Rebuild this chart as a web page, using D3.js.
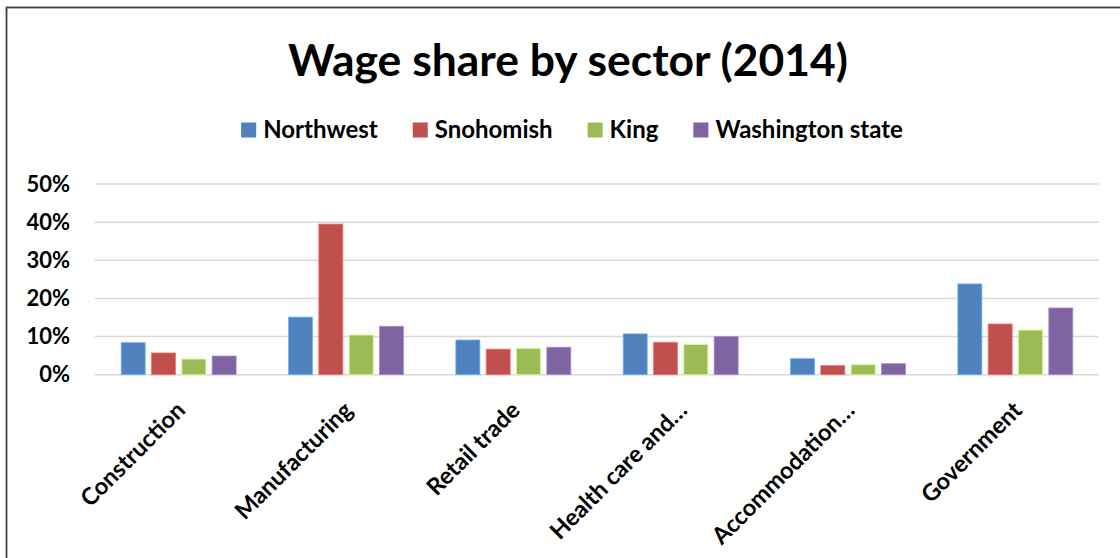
<!DOCTYPE html>
<html>
<head>
<meta charset="utf-8">
<script src="https://cdn.jsdelivr.net/npm/d3@7"></script>
<style>
  html, body { margin: 0; padding: 0; background: #fff; }
  svg { display: block; }
  text { font-family: "Lato", "Open Sans", sans-serif; font-weight: 700; fill: #000; }
</style>
</head>
<body>
<svg id="chart" width="1120" height="558"></svg>
<script>
// Wage share by sector, 2014
const categories = ["Construction", "Manufacturing", "Retail trade", "Health care and…", "Accommodation…", "Government"];
const seriesNames = ["Northwest", "Snohomish", "King", "Washington state"];
const northwest = [0.084, 0.151, 0.091, 0.107, 0.042, 0.238];
const snohomish = [0.057, 0.395, 0.067, 0.085, 0.024, 0.133];
const king      = [0.041, 0.104, 0.069, 0.079, 0.026, 0.117];
const washington = [0.049, 0.127, 0.072, 0.100, 0.029, 0.175];
const seriesColors = ["#4F81BD", "#C0504D", "#9BBB59", "#8064A2"];
const yTicks = [0, 0.1, 0.2, 0.3, 0.4, 0.5];
const chartTitle = "Wage share by sector (2014)";

const seriesValues = [northwest, snohomish, king, washington];

const svg = d3.select("#chart");
const W = 1120, H = 558;
const plot = { left: 95, right: 1099, top: 184, bottom: 374.7 };

// outer frame (open on the right and bottom edges)
svg.append("rect")
  .attr("x", 6.5).attr("y", 7.5)
  .attr("width", W + 20).attr("height", H + 20)
  .attr("fill", "none").attr("stroke", "#404040").attr("stroke-width", 1.8);

// title
svg.append("text")
  .attr("x", 568).attr("y", 76)
  .attr("text-anchor", "middle")
  .attr("font-size", 44)
  .attr("textLength", 560)
  .attr("lengthAdjust", "spacingAndGlyphs")
  .text(chartTitle);

// scales
const x = d3.scaleBand().domain(categories).range([plot.left, plot.right]).padding(0);
const groupW = x.bandwidth() * 0.687;
const xs = d3.scaleBand().domain(seriesNames).range([0, groupW]).paddingInner(0.208).paddingOuter(0);
const y = d3.scaleLinear().domain([0, 0.5]).range([plot.bottom, plot.top]);

// gridlines
svg.append("g")
  .selectAll("line")
  .data(yTicks)
  .join("line")
  .attr("x1", plot.left).attr("x2", plot.right)
  .attr("y1", d => y(d)).attr("y2", d => y(d))
  .attr("stroke", "#d9d9d9").attr("stroke-width", 1.5);

// y axis labels
const yAxis = d3.axisLeft(y).tickValues(yTicks).tickFormat(d3.format(".0%")).tickSize(0).tickPadding(0);
const gy = svg.append("g").attr("transform", "translate(70,0)").call(yAxis);
gy.select(".domain").remove();
gy.selectAll("text")
  .attr("font-size", 22)
  .attr("font-family", "Lato, 'Open Sans', sans-serif")
  .attr("font-weight", 700)
  .attr("fill", "#000");

// bars
const groups = svg.append("g")
  .selectAll("g")
  .data(categories.map((c, i) => ({ c, vals: seriesNames.map((s, j) => ({ s, j, v: seriesValues[j][i] })) })))
  .join("g")
  .attr("transform", d => `translate(${x(d.c) + (x.bandwidth() - groupW) / 2},0)`);

groups.selectAll("rect")
  .data(d => d.vals)
  .join("rect")
  .attr("x", d => xs(d.s))
  .attr("width", xs.bandwidth())
  .attr("y", d => y(d.v))
  .attr("height", d => y(0) - y(d.v))
  .attr("fill", d => seriesColors[d.j])
  .attr("stroke", d => d3.color(seriesColors[d.j]).brighter(0.9))
  .attr("stroke-width", 0.8);

// x axis labels, rotated
const xAxis = d3.axisBottom(x).tickSize(0).tickPadding(0);
const gx = svg.append("g").attr("transform", `translate(0,${plot.bottom})`).call(xAxis);
gx.select(".domain").remove();
gx.selectAll(".tick text")
  .attr("font-size", 23.5)
  .attr("font-family", "Lato, 'Open Sans', sans-serif")
  .attr("font-weight", 700)
  .attr("fill", "#000")
  .attr("text-anchor", "end")
  .attr("dy", 0)
  .attr("y", 0)
  .attr("transform", "translate(8,37) rotate(-45)");

// legend
const legendY = 130;
const legend = svg.append("g");
const items = legend.selectAll("g").data(seriesNames).join("g");
items.append("rect")
  .attr("width", 15).attr("height", 15)
  .attr("y", legendY - 7.5)
  .attr("fill", (d, i) => seriesColors[i]);
items.append("text")
  .attr("x", 22).attr("y", legendY)
  .attr("dy", "0.35em")
  .attr("font-size", 24)
  .text(d => d);
// lay legend items out left to right, centred
let cursor = 0;
const widths = [];
items.each(function () {
  const w = 22 + this.querySelector("text").getComputedTextLength();
  widths.push(w);
});
const gap = 35;
const total = d3.sum(widths) + gap * (widths.length - 1);
cursor = 572 - total / 2;
items.attr("transform", (d, i) => {
  const tx = cursor;
  cursor += widths[i] + gap;
  return `translate(${tx},0)`;
});
</script>
</body>
</html>
